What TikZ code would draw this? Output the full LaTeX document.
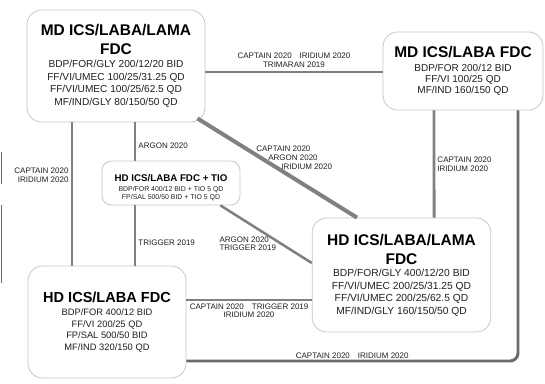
\documentclass[tikz,border=0pt]{standalone}
\usepackage{fontspec}
\setmainfont{Liberation Sans}
\newcommand{\tf}{\fontsize{11.6}{14}\selectfont\bfseries\color{black}}
\begin{document}
\begin{tikzpicture}[x=0.75pt, y=-0.75pt,
  box/.style={draw=black!22, line width=0.6pt, fill=white, rounded corners=11pt,
    align=center, inner sep=1pt, text=black!88},
  link/.style={draw=black!50, line width=2.2pt},
  tag/.style={font=\fontsize{6}{6.6}\selectfont, text=black!88, inner sep=1.5pt}]
\useasboundingbox (0,0) rectangle (545,383);
% treatment boxes
\node[box, minimum width=133.5pt, minimum height=84pt, font=\fontsize{7.6}{9.4}\selectfont] (mdlama) at (116,66)
  {\tf MD ICS/LABA/LAMA\\[4.8pt]\tf FDC\\[0.4pt]
   BDP/FOR/GLY 200/12/20 BID\\FF/VI/UMEC 100/25/31.25 QD\\FF/VI/UMEC 100/25/62.5 QD\\MF/IND/GLY 80/150/50 QD};
\node[box, minimum width=120pt, minimum height=58.5pt, font=\fontsize{7.5}{8.2}\selectfont] (mdlaba) at (463,71)
  {\tf MD ICS/LABA FDC\\[2.5pt]
   BDP/FOR 200/12 BID\\FF/VI 100/25 QD\\MF/IND 160/150 QD};
\node[box, rounded corners=7pt, minimum width=103.5pt, minimum height=33pt, font=\fontsize{5.2}{6.2}\selectfont] (tio) at (171,183)
  {\rule{0pt}{12.5pt}\fontsize{7.3}{9}\selectfont\bfseries\color{black}HD ICS/LABA FDC + TIO\\[0.8pt]
   BDP/FOR 400/12 BID + TIO 5 QD\\FP/SAL 500/50 BID + TIO 5 QD};
\node[box, minimum width=134pt, minimum height=85.5pt, font=\fontsize{7.7}{9.3}\selectfont] (hdlama) at (401.5,275)
  {\tf HD ICS/LABA/LAMA\\[4.9pt]\tf FDC\\[0.4pt]
   BDP/FOR/GLY 400/12/20 BID\\FF/VI/UMEC 200/25/31.25 QD\\FF/VI/UMEC 200/25/62.5 QD\\MF/IND/GLY 160/150/50 QD};
\node[box, minimum width=118.5pt, minimum height=84pt, font=\fontsize{7}{8.8}\selectfont] (hdlaba) at (107,322)
  {\fontsize{10.9}{13}\selectfont\bfseries\color{black}HD ICS/LABA FDC\\[1pt]
   BDP/FOR 400/12 BID\\FF/VI 200/25 QD\\FP/SAL 500/50 BID\\MF/IND 320/150 QD};
% switches between treatments
\draw[link] ([yshift=-4.5pt]mdlama.east) -- ([yshift=-0.75pt]mdlaba.west)
  node[tag, midway, above, align=center, yshift=0.5pt] {CAPTAIN 2020\quad IRIDIUM 2020\\TRIMARAN 2019};
\draw[link] ([xshift=-33pt]mdlama.south) -- ([xshift=-26.25pt]hdlaba.north)
  node[tag, pos=0.37, left, align=right] {CAPTAIN 2020\\IRIDIUM 2020};
\draw[link] ([xshift=14.25pt]mdlama.south) -- ([xshift=-27pt]tio.north)
  node[tag, pos=0.6, right] {ARGON 2020};
\draw[link] ([xshift=-27pt]tio.south) -- ([xshift=21pt]hdlaba.north)
  node[tag, pos=0.62, right] {TRIGGER 2019};
\draw[link, line width=3pt] ([xshift=-6pt, yshift=3pt]mdlama.south east) -- ([xshift=-33.4pt]hdlama.north)
  node[tag, pos=0.5, align=left, xshift=12.75pt, yshift=7.5pt] {CAPTAIN 2020\\\hspace*{9pt}ARGON 2020\\\hspace*{18.75pt}IRIDIUM 2020};
\draw[link, line width=1.9pt] ([xshift=-15pt]tio.south east) -- ([yshift=9pt]hdlama.west)
  node[tag, pos=0.3, align=left, yshift=-15.75pt] {ARGON 2020\\TRIGGER 2019};
\draw[link] ([xshift=-21.75pt]mdlaba.south) -- ([xshift=24.4pt]hdlama.north)
  node[tag, midway, right, align=left] {CAPTAIN 2020\\IRIDIUM 2020};
\draw[link] ([yshift=16.5pt]hdlaba.east) -- ([yshift=-18.75pt]hdlama.west)
  node[tag, midway, below, align=center] {CAPTAIN 2020\quad TRIGGER 2019\\IRIDIUM 2020};
\draw[link, draw=black!58, rounded corners=6pt] ([xshift=41.25pt]mdlaba.south) |- ([yshift=-29.25pt]hdlaba.east)
  node[tag, pos=0.75, above, yshift=-1pt] {CAPTAIN 2020\quad IRIDIUM 2020};
% cut-off marks at the left edge
\draw[black!60, line width=0.8pt] (1.5,152) -- (1.5,184);
\draw[black!60, line width=0.8pt] (1.5,205) -- (1.5,283);
\end{tikzpicture}
\end{document}
